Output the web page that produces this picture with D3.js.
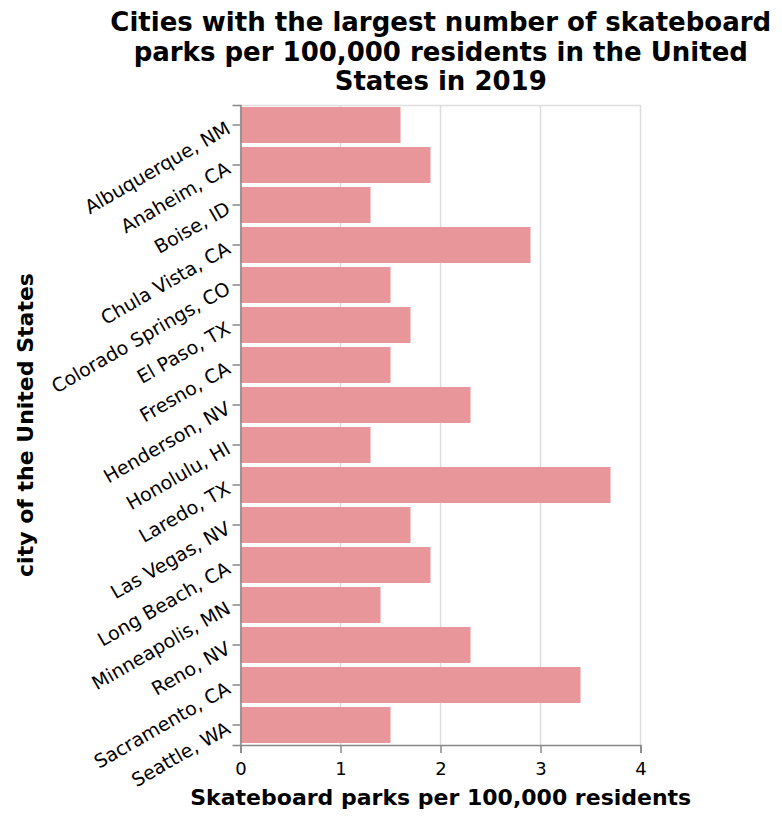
<!DOCTYPE html>
<html><head><meta charset="utf-8">
<script src="https://cdn.jsdelivr.net/npm/d3@7"></script>
<style>body{margin:0;background:#fff}svg{display:block}</style>
</head><body>
<script>
const cities = ["Albuquerque, NM","Anaheim, CA","Boise, ID","Chula Vista, CA","Colorado Springs, CO","El Paso, TX","Fresno, CA","Henderson, NV","Honolulu, HI","Laredo, TX","Las Vegas, NV","Long Beach, CA","Minneapolis, MN","Reno, NV","Sacramento, CA","Seattle, WA"];
const parks = [1.6,1.9,1.3,2.9,1.5,1.7,1.5,2.3,1.3,3.7,1.7,1.9,1.4,2.3,3.4,1.5];
const xTicks = [0,1,2,3,4];
const titleLines = ["Cities with the largest number of skateboard","parks per 100,000 residents in the United","States in 2019"];
const xTitle = "Skateboard parks per 100,000 residents";
const yTitle = "city of the United States";

const W=782,H=818;
const m={left:240.5,top:105,right:641,bottom:745};
const svg=d3.select("body").append("svg").attr("width",W).attr("height",H);
const x=d3.scaleLinear().domain([0,4]).range([m.left,m.right-0.5]);
const y=d3.scaleBand().domain(cities).range([m.top,m.bottom]).paddingInner(0.1).paddingOuter(0.05);
const font="DejaVu Sans, sans-serif";

// grid
svg.append("g").selectAll("line").data(xTicks).join("line")
 .attr("x1",d=>x(d)).attr("x2",d=>x(d)).attr("y1",m.top).attr("y2",m.bottom)
 .attr("stroke","#ddd").attr("stroke-width",1.5);
svg.append("line").attr("x1",m.left).attr("x2",x(4)).attr("y1",m.top+0.5).attr("y2",m.top+0.5).attr("stroke","#ddd").attr("stroke-width",1.5);

// bars
svg.append("g").selectAll("rect").data(cities).join("rect")
 .attr("x",x(0)).attr("y",d=>y(d)).attr("height",y.bandwidth())
 .attr("width",(d,i)=>x(parks[i])-x(0)).attr("fill","#e8969a");

// x axis
const xa=svg.append("g").attr("transform",`translate(0,${m.bottom})`)
 .call(d3.axisBottom(x).tickValues(xTicks).tickFormat(d3.format("d")).tickSize(8).tickPadding(9));
xa.attr("font-size",null).attr("font-family",null);
xa.select(".domain").attr("stroke","#888").attr("stroke-width",1.5);
xa.selectAll(".tick line").attr("stroke","#888").attr("stroke-width",1.5);
xa.selectAll("text").style("font-family",font).style("font-size","18px").attr("fill","#000");

// y axis
const ya=svg.append("g").attr("transform",`translate(${m.left},0)`)
 .call(d3.axisLeft(y).tickSize(8).tickPadding(5));
ya.attr("font-size",null).attr("font-family",null);
ya.select(".domain").attr("stroke","#888").attr("stroke-width",1.5);
ya.selectAll(".tick line").attr("stroke","#888").attr("stroke-width",1.5);
ya.selectAll("text").style("font-family",font).style("font-size","19px").attr("fill","#000")
 .attr("dy","0.45em")
 .attr("transform","rotate(-30,-13,0)");

// titles
svg.append("text").attr("x",(m.left+m.right)/2).attr("y",805).attr("text-anchor","middle")
 .style("font-family",font).attr("font-weight","bold").style("font-size","22px").text(xTitle);
svg.append("text").attr("transform",`translate(33,${(m.top+m.bottom)/2}) rotate(-90)`).attr("text-anchor","middle")
 .style("font-family",font).attr("font-weight","bold").style("font-size","22px").text(yTitle);
svg.append("g").selectAll("text").data(titleLines).join("text")
 .attr("x",(m.left+m.right)/2).attr("y",(d,i)=>31+i*29.5).attr("text-anchor","middle")
 .style("font-family",font).attr("font-weight","bold").style("font-size","26px").text(d=>d);
</script>
</body></html>
